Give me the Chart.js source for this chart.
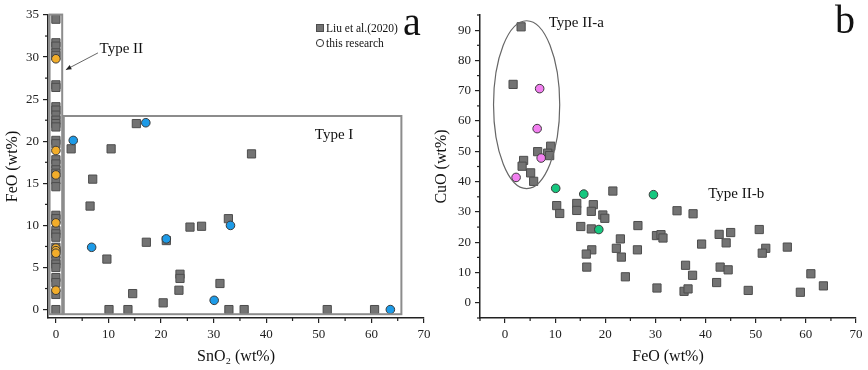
<!DOCTYPE html>
<html>
<head>
<meta charset="utf-8">
<script src="https://cdn.jsdelivr.net/npm/chart.js@4/dist/chart.umd.min.js"></script>
<style>
  html, body { margin: 0; padding: 0; background: #fff; }
  #wrap { position: relative; width: 868px; height: 370px; overflow: hidden; }
  #left { position: absolute; left: 0; top: 0; }
  #right { position: absolute; left: 430px; top: 0; }
</style>
</head>
<body>
<div id="wrap">
  <canvas id="left" width="440" height="370"></canvas>
  <canvas id="right" width="438" height="370"></canvas>
</div>
<script>
// ---- panel a: SnO2 vs FeO ----
const liuSnO2 = [0, 0, 0, 0, 0, 0, 0, 0, 0, 0, 0, 0, 0, 0, 0, 0, 0, 0, 0, 0, 0, 0, 0, 0, 0, 0, 0, 0, 0, 0, 0, 0, 0, 0, 0,
  2.9, 10.5, 15.3, 7.0, 6.5, 17.2, 21.0, 25.5, 27.7, 9.7, 14.6, 10.1, 13.7, 20.4, 23.4, 23.6, 23.6, 31.2, 37.2, 32.8, 32.9, 35.8, 51.6, 60.6];
const liuFeOa = [34.5, 31.7, 31.3, 30.5, 30.2, 26.7, 26.4, 24.1, 23.7, 23.1, 22.5, 22.1, 21.7, 20.1, 19.7, 17.8, 17.3, 16.6, 16.2, 15.4, 14.6, 11.2, 10.8, 9.4, 9.0, 8.6, 7.4, 6.6, 5.8, 5.4, 5.0, 3.8, 3.2, 1.8, 0,
  19.1, 19.1, 22.1, 15.5, 12.3, 8.0, 8.2, 9.8, 9.9, 6.0, 1.9, 0, 0, 0.8, 2.3, 4.2, 3.7, 3.1, 18.5, 10.8, 0, 0, 0, 0];
const type2SnO2 = [0, 0, 0, 0, 0, 0, 0, 0];
const type2FeO = [29.8, 18.9, 16.0, 10.3, 7.3, 7.0, 6.7, 2.3];
const type1SnO2 = [3.3, 17.1, 6.8, 21.0, 33.2, 30.1, 63.6];
const type1FeO = [20.1, 22.2, 7.4, 8.4, 10.0, 1.1, 0];

// boxes [xMin, xMax, yMin, yMax] in data units
const boxType2 = [-1.2, 1.2, -0.55, 35.05];
const boxType1 = [1.5, 65.7, -0.55, 23.0];

// ---- panel b: FeO vs CuO ----
const liuFeOb = [3.2, 1.6, 6.5, 9.1, 8.5, 8.9, 3.7, 3.4, 5.1, 5.7, 21.5, 10.3, 10.9, 14.3, 14.3, 17.6, 17.2, 19.5, 19.9, 15.1, 17.2, 26.5, 34.3, 37.5,
  23.0, 22.2, 23.2, 17.3, 16.2, 16.3, 24.0, 26.4, 30.2, 31.1, 31.5, 30.3, 35.7, 36.5, 36.0, 37.4, 39.2, 42.7, 45.0, 44.1, 42.9, 44.5, 42.2, 48.5,
  50.7, 52.0, 51.3, 56.3, 61.0, 58.9, 63.5];
const liuCuO = [91.1, 72.1, 49.9, 51.7, 49.4, 48.6, 47.0, 45.1, 42.9, 40.1, 36.9, 32.1, 29.5, 32.8, 30.5, 32.4, 30.2, 29.0, 27.9, 25.2, 24.4, 25.5, 30.4, 29.4,
  21.1, 18.0, 15.1, 17.5, 16.1, 11.8, 8.6, 17.5, 22.2, 22.5, 21.4, 4.9, 3.8, 4.6, 12.4, 9.1, 19.4, 22.6, 23.2, 19.8, 11.8, 10.9, 6.7, 4.1,
  24.2, 18.0, 16.4, 18.4, 9.6, 3.5, 5.6];
const type2aFeO = [6.9, 6.4, 7.2, 2.2];
const type2aCuO = [70.7, 57.5, 47.8, 41.4];
const type2bFeO = [10.1, 15.7, 29.6, 18.7];
const type2bCuO = [37.8, 35.9, 35.7, 24.2];

// ellipse round Type II-a: [cx, cy, rx, ry] in data units
const ellipseType2a = [4.3, 65.4, 6.6, 27.7];

const SERIF = '"Liberation Serif", "Times New Roman", serif';
const AXIS = '#222';
const GRAY = '#737373';
const GRAY_EDGE = '#4d4d4d';

function pts(xs, ys) {
  return xs.map((x, i) => ({ x: x, y: ys[i] }));
}

function squareSet(data) {
  return {
    data: data, pointStyle: 'rect', pointRadius: 5.8, pointHoverRadius: 5.8,
    backgroundColor: GRAY, borderColor: GRAY_EDGE, borderWidth: 1, order: 2
  };
}

function circleSet(data, color) {
  return {
    data: data, pointStyle: 'circle', pointRadius: 4.3, pointHoverRadius: 4.3,
    backgroundColor: color, borderColor: '#3a3a3a', borderWidth: 1, order: 1
  };
}

// minor ticks between the labelled ones
const minorTickPlugin = {
  id: 'minorTicks',
  afterDraw(chart, args, opts) {
    const ctx = chart.ctx;
    ctx.save();
    ctx.strokeStyle = AXIS;
    ctx.lineWidth = 1.2;
    opts.list.forEach(m => {
      const s = chart.scales[m.id];
      const start = Math.ceil((s.min - 1e-9) / m.step) * m.step;
      for (let v = start; v <= s.max + 1e-9; v += m.step) {
        const k = v / m.step;
        if (Math.abs(k % 2) < 1e-6) continue;
        const p = s.getPixelForValue(v);
        ctx.beginPath();
        if (s.isHorizontal()) {
          ctx.moveTo(p, s.top);
          ctx.lineTo(p, s.top + 3);
        } else {
          ctx.moveTo(s.right, p);
          ctx.lineTo(s.right - 3, p);
        }
        ctx.stroke();
      }
    });
    ctx.restore();
  }
};

function axis(min, max, title, width, height, titlePad, every) {
  const o = {
    type: 'linear', min: min, max: max,
    border: { display: true, color: AXIS, width: 1.5 },
    grid: { display: true, drawOnChartArea: false, drawTicks: true, tickLength: 5, tickColor: AXIS, lineWidth: 1.2 },
    ticks: { stepSize: every, color: '#222', padding: 4, font: { family: SERIF, size: 13 } },
    title: { display: true, text: title, color: '#111', font: { family: SERIF, size: 16 }, padding: titlePad },
    afterBuildTicks: s => {
      const t = [];
      for (let v = Math.ceil(s.min / every) * every; v <= s.max + 1e-9; v += every) t.push({ value: v });
      s.ticks = t;
    }
  };
  if (width) o.afterFit = s => { s.width = width; };
  if (height) o.afterFit = s => { s.height = height; };
  return o;
}

// ---- left chart ----
const leftDecor = {
  id: 'leftDecor',
  afterDatasetsDraw(chart) {
    const { ctx, scales: { x, y } } = chart;
    ctx.save();
    ctx.strokeStyle = '#8c8c8c';
    ctx.lineWidth = 2;
    [boxType2, boxType1].forEach(b => {
      const x0 = x.getPixelForValue(b[0]), x1 = x.getPixelForValue(b[1]);
      const y0 = y.getPixelForValue(b[3]), y1 = y.getPixelForValue(b[2]);
      ctx.strokeRect(x0, y0, x1 - x0, y1 - y0);
    });

    // Type II arrow
    const ax0 = x.getPixelForValue(8.0), ay0 = y.getPixelForValue(30.5);
    const ax1 = x.getPixelForValue(1.9), ay1 = y.getPixelForValue(28.5);
    ctx.strokeStyle = '#555';
    ctx.lineWidth = 0.9;
    ctx.beginPath(); ctx.moveTo(ax0, ay0); ctx.lineTo(ax1, ay1); ctx.stroke();
    const ang = Math.atan2(ay1 - ay0, ax1 - ax0);
    ctx.fillStyle = '#222';
    ctx.beginPath();
    ctx.moveTo(ax1, ay1);
    ctx.lineTo(ax1 - 6 * Math.cos(ang - 0.4), ay1 - 6 * Math.sin(ang - 0.4));
    ctx.lineTo(ax1 - 6 * Math.cos(ang + 0.4), ay1 - 6 * Math.sin(ang + 0.4));
    ctx.closePath(); ctx.fill();

    ctx.fillStyle = '#111';
    ctx.font = '15px ' + SERIF;
    ctx.textBaseline = 'middle';
    ctx.textAlign = 'left';
    ctx.fillText('Type II', x.getPixelForValue(8.3), y.getPixelForValue(30.9));
    ctx.textAlign = 'center';
    ctx.fillText('Type I', x.getPixelForValue(52.9), y.getPixelForValue(20.7));

    // legend
    ctx.fillStyle = GRAY; ctx.strokeStyle = GRAY_EDGE; ctx.lineWidth = 1;
    ctx.fillRect(316.5, 24.5, 7, 7); ctx.strokeRect(316.5, 24.5, 7, 7);
    ctx.beginPath(); ctx.arc(320, 43, 3.6, 0, Math.PI * 2);
    ctx.strokeStyle = '#333'; ctx.stroke();
    ctx.fillStyle = '#111';
    ctx.font = '11.5px ' + SERIF;
    ctx.textAlign = 'left';
    ctx.fillText('Liu et al.(2020)', 326, 28.5);
    ctx.fillText('this research', 326, 43.5);

    ctx.font = '40px ' + SERIF;
    ctx.textBaseline = 'alphabetic';
    ctx.fillText('a', 403, 35);
    ctx.restore();
  }
};

new Chart(document.getElementById('left').getContext('2d'), {
  type: 'scatter',
  data: {
    datasets: [
      squareSet(pts(liuSnO2, liuFeOa)),
      circleSet(pts(type2SnO2, type2FeO), '#f2ad2a'),
      circleSet(pts(type1SnO2, type1FeO), '#1d9be8')
    ]
  },
  options: {
    responsive: false, animation: false, devicePixelRatio: 1,
    layout: { padding: { top: 15, right: 16, bottom: 0, left: 0 } },
    plugins: {
      legend: { display: false }, tooltip: { enabled: false },
      minorTicks: { list: [{ id: 'x', step: 5 }, { id: 'y', step: 2.5 }] }
    },
    scales: {
      x: axis(-1.5, 70, 'SnO\u2082 (wt%)', null, 52, { bottom: 3.4 }, 10),
      y: axis(-1, 35, 'FeO (wt%)', 48, null, { top: 3 }, 5)
    }
  },
  plugins: [minorTickPlugin, leftDecor]
});

// ---- right chart ----
const rightDecor = {
  id: 'rightDecor',
  afterDatasetsDraw(chart) {
    const { ctx, scales: { x, y } } = chart;
    ctx.save();
    const cx = x.getPixelForValue(ellipseType2a[0]);
    const cy = y.getPixelForValue(ellipseType2a[1]);
    const rx = Math.abs(x.getPixelForValue(ellipseType2a[0] + ellipseType2a[2]) - cx);
    const ry = Math.abs(y.getPixelForValue(ellipseType2a[1] + ellipseType2a[3]) - cy);
    ctx.strokeStyle = '#666';
    ctx.lineWidth = 1.2;
    ctx.beginPath(); ctx.ellipse(cx, cy, rx, ry, 0, 0, Math.PI * 2); ctx.stroke();

    ctx.fillStyle = '#111';
    ctx.font = '15px ' + SERIF;
    ctx.textBaseline = 'middle';
    ctx.textAlign = 'center';
    ctx.fillText('Type II-a', x.getPixelForValue(14.2), y.getPixelForValue(92.3));
    ctx.fillText('Type II-b', x.getPixelForValue(46.1), y.getPixelForValue(36.0));

    ctx.font = '40px ' + SERIF;
    ctx.textBaseline = 'alphabetic';
    ctx.textAlign = 'left';
    ctx.fillText('b', 405, 33);
    ctx.restore();
  }
};

new Chart(document.getElementById('right').getContext('2d'), {
  type: 'scatter',
  data: {
    datasets: [
      squareSet(pts(liuFeOb, liuCuO)),
      circleSet(pts(type2aFeO, type2aCuO), '#f27ff0'),
      circleSet(pts(type2bFeO, type2bCuO), '#16c77f')
    ]
  },
  options: {
    responsive: false, animation: false, devicePixelRatio: 1,
    layout: { padding: { top: 15, right: 12, bottom: 0, left: 0 } },
    plugins: {
      legend: { display: false }, tooltip: { enabled: false },
      minorTicks: { list: [{ id: 'x', step: 5 }, { id: 'y', step: 5 }] }
    },
    scales: {
      x: axis(-5, 70, 'FeO (wt%)', null, 52, { bottom: 3.4 }, 10),
      y: axis(-5, 95, 'CuO (wt%)', 50, null, { top: 2.4 }, 10)
    }
  },
  plugins: [minorTickPlugin, rightDecor]
});
</script>
</body>
</html>
